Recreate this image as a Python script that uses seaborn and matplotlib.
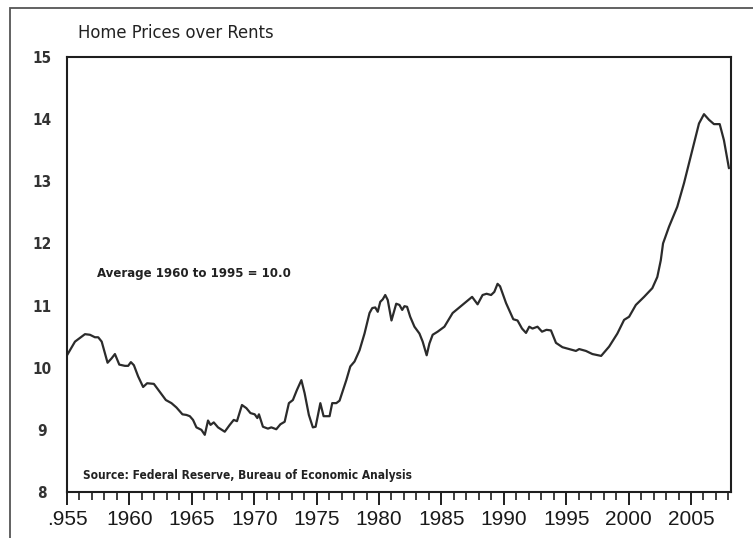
import matplotlib
matplotlib.use("Agg")
import matplotlib.pyplot as plt
from matplotlib import font_manager
from matplotlib.font_manager import FontProperties
from matplotlib.patches import Rectangle
from matplotlib.ticker import MultipleLocator, FixedLocator
import seaborn as sns
import pandas as pd

# ---- data ----
years = [1955.0, 1955.64, 1956.44, 1956.84, 1957.24, 1957.5, 1957.78, 1958.25, 1958.57, 1958.84,
         1959.19, 1959.64, 1959.9, 1960.12, 1960.36, 1960.7, 1961.1, 1961.42, 1961.96, 1962.44,
         1962.92, 1963.37, 1963.77, 1964.25, 1964.57, 1964.84, 1965.1, 1965.37, 1965.77, 1966.04,
         1966.3, 1966.5, 1966.76, 1967.1, 1967.64, 1968.04, 1968.36, 1968.62, 1969.02, 1969.37,
         1969.7, 1970.04, 1970.25, 1970.38, 1970.7, 1971.1, 1971.37, 1971.77, 1972.1, 1972.44,
         1972.78, 1973.1, 1973.42, 1973.78, 1974.04, 1974.38, 1974.7, 1974.92, 1975.3, 1975.56,
         1976.04, 1976.25, 1976.58, 1976.84, 1977.38, 1977.7, 1978.04, 1978.44, 1978.84, 1979.24,
         1979.46, 1979.7, 1979.9, 1980.1, 1980.3, 1980.5, 1980.7, 1981.0, 1981.38, 1981.64,
         1981.86, 1982.04, 1982.25, 1982.5, 1982.84, 1983.24, 1983.5, 1983.82, 1984.04, 1984.3,
         1984.7, 1985.24, 1985.9, 1986.5, 1986.98, 1987.46, 1987.9, 1988.3, 1988.62, 1988.98,
         1989.24, 1989.5, 1989.7, 1990.18, 1990.76, 1991.1, 1991.46, 1991.78, 1992.04, 1992.3,
         1992.7, 1993.06, 1993.42, 1993.78, 1994.18, 1994.7, 1995.24, 1995.78, 1996.04, 1996.58,
         1997.1, 1997.8, 1998.44, 1999.1, 1999.64, 2000.04, 2000.58, 2001.24, 2001.9, 2002.3,
         2002.58, 2002.76, 2003.24, 2003.9, 2004.44, 2004.84, 2005.24, 2005.64, 2006.04, 2006.44,
         2006.84, 2007.3, 2007.64, 2008.04]
ratio = [10.20, 10.42, 10.54, 10.53, 10.49, 10.49, 10.42, 10.08, 10.15, 10.22,
         10.05, 10.03, 10.03, 10.09, 10.04, 9.86, 9.69, 9.75, 9.74, 9.61,
         9.48, 9.43, 9.36, 9.25, 9.24, 9.22, 9.16, 9.04, 9.00, 8.92,
         9.15, 9.08, 9.12, 9.04, 8.97, 9.08, 9.16, 9.14, 9.40, 9.35,
         9.27, 9.25, 9.19, 9.25, 9.05, 9.02, 9.04, 9.01, 9.09, 9.13,
         9.43, 9.48, 9.64, 9.80, 9.59, 9.24, 9.04, 9.05, 9.43, 9.22,
         9.22, 9.43, 9.43, 9.47, 9.80, 10.02, 10.10, 10.28, 10.55, 10.88,
         10.96, 10.97, 10.90, 11.06, 11.10, 11.17, 11.09, 10.76, 11.03, 11.01,
         10.93, 10.99, 10.98, 10.82, 10.66, 10.55, 10.42, 10.20, 10.39, 10.53,
         10.58, 10.66, 10.88, 10.98, 11.06, 11.14, 11.02, 11.17, 11.19, 11.17,
         11.22, 11.35, 11.31, 11.04, 10.78, 10.76, 10.63, 10.56, 10.66, 10.63,
         10.66, 10.58, 10.61, 10.60, 10.40, 10.33, 10.30, 10.27, 10.30, 10.27,
         10.22, 10.19, 10.34, 10.55, 10.77, 10.82, 11.01, 11.14, 11.28, 11.46,
         11.73, 12.00, 12.27, 12.59, 12.97, 13.29, 13.61, 13.93, 14.08, 13.99,
         13.92, 13.92, 13.66, 13.21]

x_ticks = [1955, 1960, 1965, 1970, 1975, 1980, 1985, 1990, 1995, 2000, 2005]
x_tick_labels = [".955", "1960", "1965", "1970", "1975", "1980", "1985", "1990", "1995", "2000", "2005"]
y_ticks = [8, 9, 10, 11, 12, 13, 14, 15]
title_text = "Home Prices over Rents"
note_text = "Average 1960 to 1995 = 10.0"
source_text = "Source: Federal Reserve, Bureau of Economic Analysis"

# ---- style ----
sns.set_theme(style="white")
plt.rcParams["font.family"] = ["Liberation Sans", "DejaVu Sans"]


def find_narrow(bold):
    cands = []
    for f in font_manager.fontManager.ttflist:
        is_narrow = ("Narrow" in f.name or "Condensed" in f.name
                     or str(f.stretch) in ("condensed", "semi-condensed", "extra-condensed", "ultra-condensed"))
        if not is_narrow or f.style != "normal":
            continue
        w = f.weight if isinstance(f.weight, int) else (700 if "bold" in str(f.weight) else 400)
        if (w >= 600) == bold:
            cands.append(f)
    if cands:
        return FontProperties(fname=cands[0].fname)
    return FontProperties(family=["Liberation Sans", "DejaVu Sans"],
                          weight="bold" if bold else "normal")


fp_reg = find_narrow(False)
fp_bold = find_narrow(True)

W, H = 753, 538
fig = plt.figure(figsize=(W / 100, H / 100), dpi=100, facecolor="white")
L, R, T, B = 67, 731, 57, 492
ax = fig.add_axes([L / W, 1 - B / H, (R - L) / W, (B - T) / H])

df = pd.DataFrame({"year": years, "ratio": ratio})
sns.lineplot(data=df, x="year", y="ratio", ax=ax, color="#2b2b2b", linewidth=1.6)

ax.set_xlim(1955, 1955 + (R - L) / 12.48)
ax.set_ylim(8, 15)
ax.set_xlabel("")
ax.set_ylabel("")

for s in ax.spines.values():
    s.set_color("#1e1e1e")
    s.set_linewidth(1.5)

ax.xaxis.set_major_locator(FixedLocator(x_ticks))
ax.set_xticklabels(x_tick_labels)
ax.xaxis.set_minor_locator(MultipleLocator(1))
ax.tick_params(axis="x", which="major", direction="out", length=9, width=1.4,
               color="#1e1e1e", bottom=True, labelsize=15, labelcolor="#1a1a1a", pad=4)
ax.tick_params(axis="x", which="minor", direction="out", length=6, width=1.2,
               color="#1e1e1e", bottom=True)

ax.set_yticks(y_ticks)
ax.set_yticklabels([str(v) for v in y_ticks])
ax.tick_params(axis="y", which="both", length=0, pad=18, labelcolor="#333333")
for lab in ax.get_yticklabels():
    lab.set_fontproperties(fp_bold.copy())
    lab.set_fontsize(11)
    lab.set_horizontalalignment("center")

ax.grid(False)

# texts
t_title = fig.text(78 / W, 1 - 33 / H, title_text, ha="left", va="center",
                   fontproperties=fp_reg.copy(), fontsize=16, color="#222222")
t_note = ax.text((97 - L) / (R - L), (B - 273) / (B - T), note_text, transform=ax.transAxes,
                 ha="left", va="center", fontproperties=fp_bold.copy(), fontsize=12,
                 color="#222222")
t_src = ax.text((83 - L) / (R - L), (B - 475) / (B - T), source_text, transform=ax.transAxes,
                ha="left", va="center", fontproperties=fp_bold.copy(), fontsize=12,
                color="#222222")

# fit text widths to the reference widths (pixels)
fig.canvas.draw()
renderer = fig.canvas.get_renderer()
for t, target in ((t_title, 197), (t_note, 193), (t_src, 329)):
    w = t.get_window_extent(renderer).width
    t.set_fontsize(t.get_fontsize() * target / w)

# outer frame
fig.patches.append(Rectangle((10 / W, -0.1), 1.2, 1.1 - 8 / H, transform=fig.transFigure,
                             fill=False, edgecolor="#555555", linewidth=1.3))

fig.savefig("out.png", dpi=100, facecolor="white")
